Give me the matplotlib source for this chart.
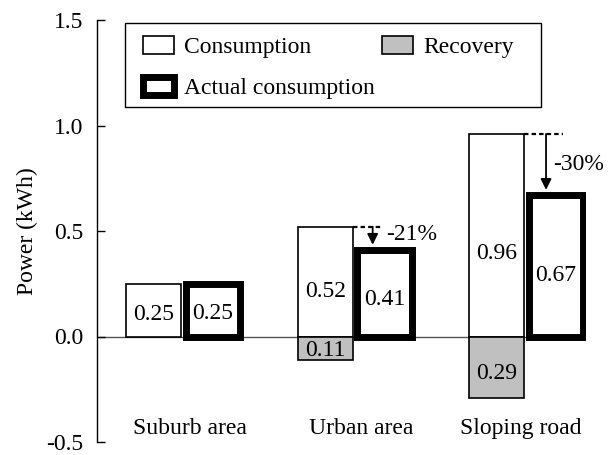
import matplotlib
matplotlib.use("Agg")
import matplotlib.pyplot as plt
from matplotlib.patches import Patch, Rectangle
import numpy as np

plt.rcParams['font.family'] = ['Liberation Serif', 'DejaVu Serif']
plt.rcParams['axes.unicode_minus'] = False

# data
categories = ["Suburb area", "Urban area", "Sloping road"]
consumption = [0.25, 0.52, 0.96]
recovery = [0.0, 0.11, 0.29]
actual = [0.25, 0.41, 0.67]
yticks = [-0.5, 0.0, 0.5, 1.0, 1.5]
ytick_labels = ["-0.5", "0.0", "0.5", "1.0", "1.5"]

fs = 17
w = 0.32
x = np.arange(len(categories))

fig = plt.figure(figsize=(6.13, 4.55), dpi=100)
ax = fig.add_axes([97 / 613, 13 / 455, 489 / 613, 422 / 455])

ax.axhline(0, color="#555555", lw=1, zorder=1)

ax.bar(x - 0.33, consumption, width=w, align="edge", facecolor="white",
       edgecolor="black", lw=1.2, zorder=2)
rec = np.array(recovery)
ax.bar(x[rec > 0] - 0.33, -rec[rec > 0], width=w, align="edge", facecolor="#c0c0c0",
       edgecolor="black", lw=1.2, zorder=2)
bars = ax.bar(x + 0.015, actual, width=w, align="edge", facecolor="white",
              edgecolor="black", lw=5, zorder=3)
for b in bars:
    b.set_joinstyle("miter")

# value labels
for i in range(len(x)):
    ax.text(x[i] - 0.33 + w / 2, consumption[i] * 0.41, f"{consumption[i]:.2f}",
            ha="center", va="center", fontsize=fs, zorder=4)
    ax.text(x[i] + 0.015 + w / 2, actual[i] * 0.43, f"{actual[i]:.2f}",
            ha="center", va="center", fontsize=fs, zorder=4)
    if recovery[i] > 0:
        ax.text(x[i] - 0.33 + w / 2, -recovery[i] * 0.61, f"{recovery[i]:.2f}",
                ha="center", va="center", fontsize=fs, zorder=4)

# reduction arrows
arrow_dx = [0, 0.106, 0.117]
dash_end = [0, 0.166, 0.216]
text_dx = [0, 0.184, 0.157]
text_dy = [0, 0.02, 0.0]
for i in range(len(x)):
    c, a = consumption[i], actual[i]
    if c - a < 0.01:
        continue
    ax.plot([x[i] - 0.01, x[i] + dash_end[i]], [c, c], color="black", lw=1.6,
            ls=(0, (2, 1.4)), zorder=4)
    ax.annotate("", xy=(x[i] + arrow_dx[i], a + 0.025), xytext=(x[i] + arrow_dx[i], c),
                arrowprops=dict(arrowstyle="-|>", color="black", lw=1.3,
                                mutation_scale=16, shrinkA=0, shrinkB=0), zorder=5)
    pct = round((c - a) / c * 100)
    ax.text(x[i] + text_dx[i], (c + a) / 2 + text_dy[i], f"-{pct}%", ha="left",
            va="center", fontsize=fs, clip_on=False)

# category labels inside the axes
lab_dx = [0.04, 0.04, -0.03]
for i, cat in enumerate(categories):
    ax.text(x[i] + lab_dx[i], -0.435, cat, ha="center", va="center", fontsize=fs)

ax.set_xlim(-0.5015, 2.35)
ax.set_ylim(-0.5, 1.5)
ax.set_yticks(yticks)
ax.set_yticklabels(ytick_labels)
ax.set_xticks([])
ax.tick_params(axis="y", direction="in", length=6, width=1, pad=10, labelsize=fs)
for s in ["top", "right", "bottom"]:
    ax.spines[s].set_visible(False)
ax.spines["left"].set_linewidth(1)
ax.set_ylabel("Power (kWh)", fontsize=fs, labelpad=6)

# legend box (drawn separately so its padding matches the original)
ax.add_patch(Rectangle((28 / 489, 335 / 422), 416 / 489, 84 / 422,
                       transform=ax.transAxes, facecolor="white", edgecolor="black",
                       lw=1, zorder=5))
handles = [Patch(facecolor="white", edgecolor="black", lw=1.2),
           Patch(facecolor="white", edgecolor="black", lw=5),
           Patch(facecolor="#c0c0c0", edgecolor="black", lw=1.2)]
labels = ["Consumption", "Actual consumption", "Recovery"]
leg = ax.legend(handles, labels, ncol=2, loc="upper left",
                bbox_to_anchor=(46 / 489, 1 - 16 / 422), borderaxespad=0,
                fontsize=fs, frameon=False, borderpad=0,
                handlelength=1.3, handleheight=0.8, handletextpad=0.45,
                columnspacing=0.3, labelspacing=0.8)
leg.set_zorder(6)

fig.savefig("out.png", dpi=100)
